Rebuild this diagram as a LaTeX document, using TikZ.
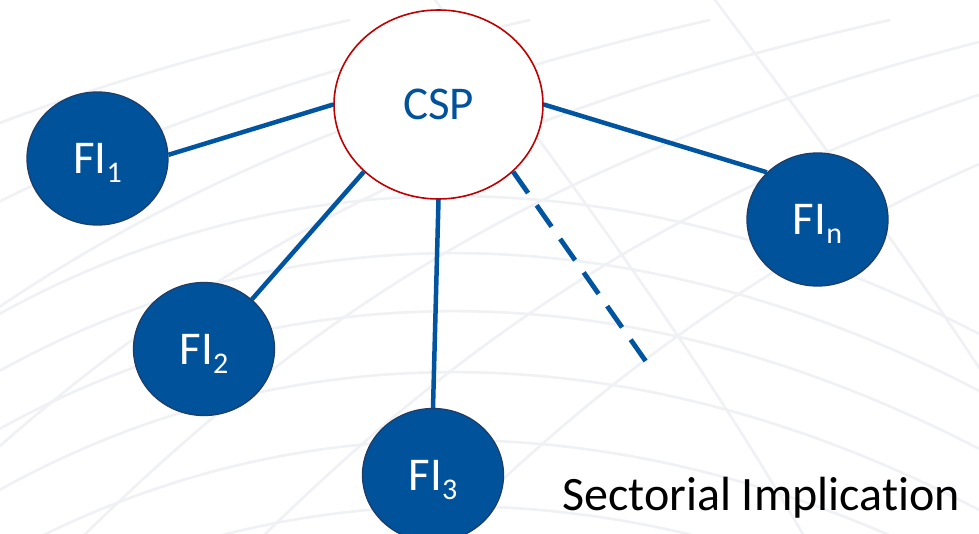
\documentclass[tikz,border=0pt]{standalone}
\usepackage{fontspec}
\setmainfont{Carlito}[Ligatures=NoCommon]
\usetikzlibrary{shapes.geometric}

\definecolor{fiblue}{RGB}{0,82,155}
\definecolor{fiedge}{RGB}{30,62,105}
\definecolor{cspred}{RGB}{192,0,0}
\definecolor{linkblue}{RGB}{0,84,160}
\definecolor{meshgray}{RGB}{239,241,244}

% lowered, smaller index after "FI"
\newcommand\fiindex[1]{\smash{\raisebox{-9pt}{\fontsize{30}{32}\selectfont #1}}}

\tikzset{
  fi/.style={ellipse, draw=fiedge, line width=1.3pt, fill=fiblue,
             minimum width=141pt, minimum height=133pt, inner sep=0pt,
             text=white, font=\fontsize{47}{50}\selectfont},
  hub/.style={ellipse, draw=cspred, line width=1.6pt, fill=white,
              minimum width=209pt, minimum height=189pt, inner sep=0pt,
              text=fiblue, font=\fontsize{47}{50}\selectfont},
  link/.style={draw=linkblue, line width=4.5pt},
  pendinglink/.style={draw=linkblue, line width=4.8pt, dash pattern=on 26pt off 15pt},
  mesh/.style={draw=meshgray, line width=2.6pt},
  caption/.style={anchor=base west, inner sep=0pt, text=black,
                  font=\fontsize{48}{52}\selectfont}
}

\begin{document}
\begin{tikzpicture}[x=1pt, y=-1pt]
  \useasboundingbox (0,0) rectangle (979,533);
  \fill[white] (0,0) rectangle (979,533);

  % faint globe-like mesh in the background
  \begin{scope}
    \clip (0,0) rectangle (979,533);
    \foreach \p in {195,252,310,371,439,505} {
      \draw[mesh] (-20,\p+130) .. controls (280,\p-45) and (640,\p-45) .. (1000,\p+150);
    }
    \foreach \s in {-700,-520,-340,-160,20,200,380} {
      \draw[mesh] (\s,600) .. controls (\s+260,330) and (\s+520,140) .. (\s+1050,20);
    }
    \foreach \s in {420,700} {
      \draw[mesh] (\s,-20) .. controls (\s+150,180) and (\s+300,380) .. (\s+420,600);
    }
  \end{scope}

  % nodes
  \node[hub] (csp) at (438.5,104.5) {CSP};
  \node[fi]  (fi1) at (97.5,158.5)  {FI\fiindex{1}};
  \node[fi]  (fi2) at (204,349)     {FI\fiindex{2}};
  \node[fi]  (fi3) at (433,475)     {FI\fiindex{3}};
  \node[fi]  (fin) at (817.5,219.5) {FI\fiindex{n}};
  \coordinate (pending) at (647,363);

  % links from the CSP to each institution
  \draw[link] (csp.west) -- (fi1.3);
  \draw[link] (csp.222) -- (fi2.46);
  \draw[link] (csp.south) -- (fi3.north);
  \draw[link] (csp.east) -- (fin.137);
  \draw[pendinglink] (csp.-42) -- (pending);

  \node[caption] (sector) at (562,510) {Sectorial Implication};
\end{tikzpicture}
\end{document}
